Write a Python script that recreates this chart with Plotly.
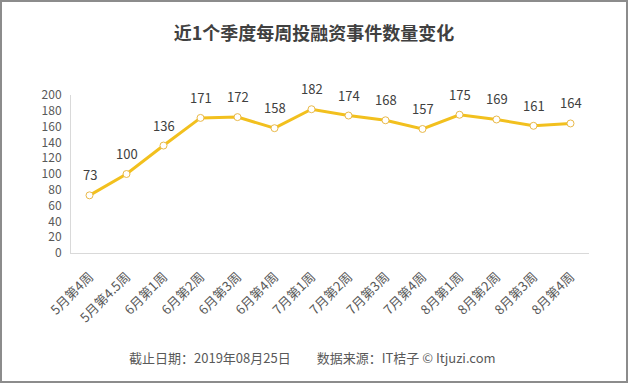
import plotly.graph_objects as go

categories = ["5月第4周", "5月第4.5周", "6月第1周", "6月第2周", "6月第3周", "6月第4周",
              "7月第1周", "7月第2周", "7月第3周", "7月第4周", "8月第1周", "8月第2周",
              "8月第3周", "8月第4周"]
values = [73, 100, 136, 171, 172, 158, 182, 174, 168, 157, 175, 169, 161, 164]
y_ticks = [0, 20, 40, 60, 80, 100, 120, 140, 160, 180, 200]

FONT = "Noto Sans CJK SC"

xs = list(range(len(categories)))

fig = go.Figure()
fig.add_trace(go.Scatter(
    x=xs, y=values,
    mode="lines+markers",
    line=dict(color="#F2C01E", width=3),
    marker=dict(size=7, color="white", line=dict(color="#E9B949", width=1)),
    cliponaxis=False,
    hoverinfo="skip",
))

for xi, v in zip(xs, values):
    fig.add_annotation(x=xi, y=v, text=str(v), showarrow=False,
                       xanchor="center", yanchor="bottom", yshift=9,
                       font=dict(family=FONT, size=13, color="#404040"))

fig.update_layout(
    width=628, height=383,
    paper_bgcolor="white", plot_bgcolor="white",
    margin=dict(l=71, r=39, t=95, b=130),
    showlegend=False,
    title=dict(text="<b>近1个季度每周投融资事件数量变化</b>", x=0.5, xanchor="center",
               y=1 - 34/383, yanchor="middle",
               font=dict(family=FONT, size=18, color="#404040")),
    xaxis=dict(
        range=[-0.5, len(categories) - 0.5],
        tickmode="array", tickvals=xs, ticktext=categories,
        tickangle=-45, tickfont=dict(family=FONT, size=13, color="#595959"),
        showgrid=False, zeroline=False,
        showline=True, linecolor="#D9D9D9", linewidth=1,
        ticks="", ticklabelstandoff=10,
    ),
    yaxis=dict(
        range=[0, 200], tickmode="array", tickvals=y_ticks,
        tickfont=dict(family=FONT, size=12, color="#595959"),
        showgrid=False, zeroline=False,
        showline=True, linecolor="#D9D9D9", linewidth=1,
        ticks="", ticklabelstandoff=6,
    ),
)

fig.add_annotation(
    text="截止日期：2019年08月25日　　数据来源：IT桔子 © Itjuzi.com",
    xref="paper", yref="paper", x=(312 - 71) / 518, y=-(357 - 253) / 158,
    xanchor="center", yanchor="middle",
    showarrow=False, font=dict(family=FONT, size=13, color="#595959"),
)
fig.add_shape(type="rect", xref="paper", yref="paper",
              x0=-70/518, x1=1 + 38/518, y0=-129/158, y1=1 + 94/158,
              line=dict(color="#8C8C8C", width=2), fillcolor="rgba(0,0,0,0)")

fig.write_html("out.html", post_script="document.body.style.margin='0';",
               config={"displayModeBar": False})
